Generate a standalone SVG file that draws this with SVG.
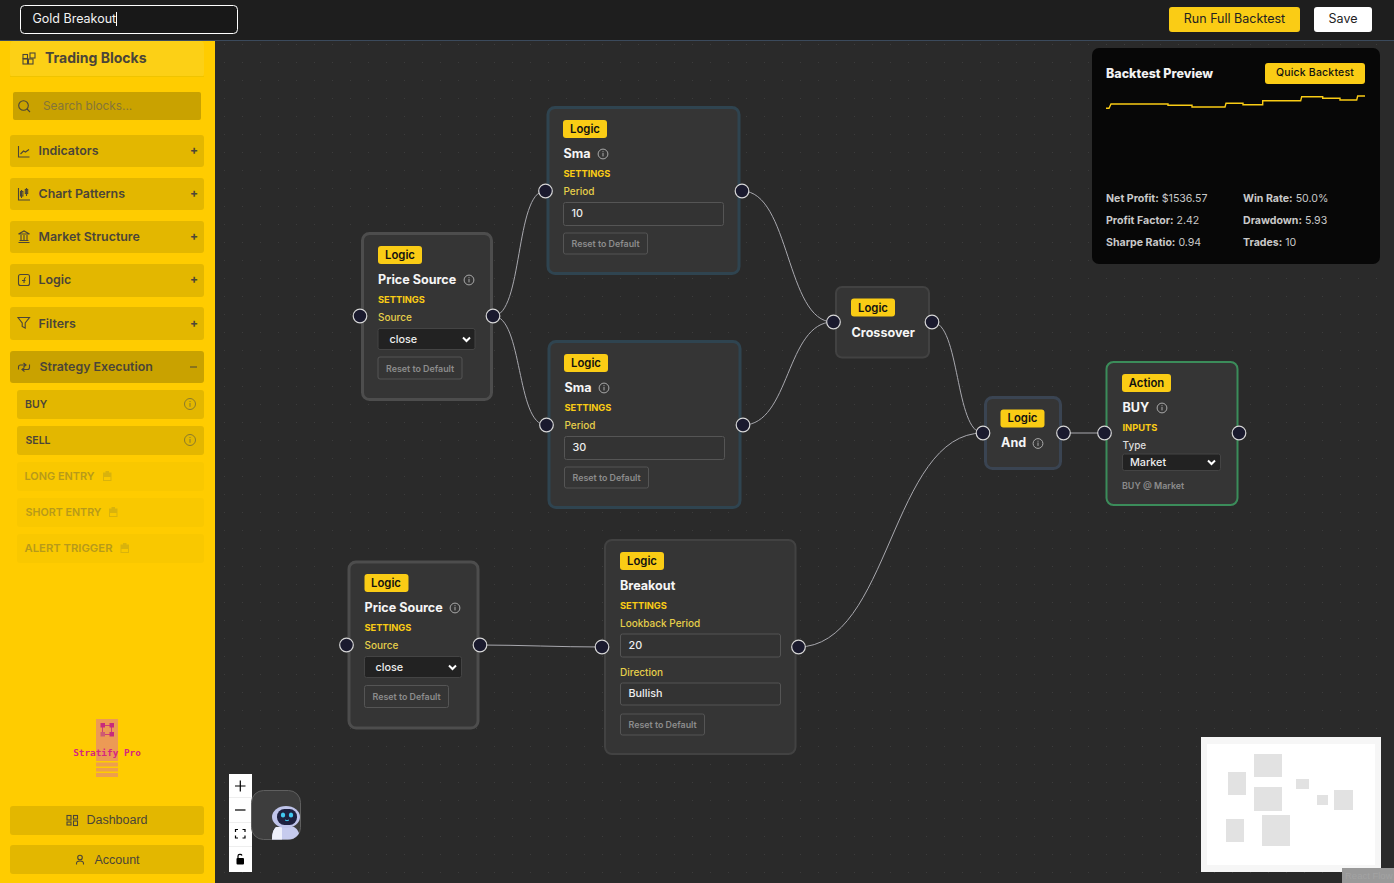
<svg xmlns="http://www.w3.org/2000/svg" width="1394" height="883" viewBox="0 0 1394 883">
<style>
text{font-family:Inter,"Liberation Sans",sans-serif}
.node{fill:#353535;stroke-width:3}
.tag{fill:#facc15}
.tagt{font-size:11.300px;font-weight:600;fill:#111;text-anchor:middle}
.title{font-size:12.600px;font-weight:700;fill:#f5f5f5}
.sec{font-size:9.300px;font-weight:700;fill:#facc15}
.lbl{font-size:10px;font-weight:500;fill:#e6cf4a}
.inp{fill:#333;stroke:#555;stroke-width:1}
.sel{fill:#222;stroke:#444;stroke-width:1}
.val{font-size:10.800px;font-weight:500;fill:#eee}
.rst{fill:#353535;stroke:#555;stroke-width:1}
.rstt{font-size:8.900px;font-weight:600;fill:#8c8c8c}
.port{fill:#1a1a2e;stroke:#d6d6d6;stroke-width:1.200}
.edge{fill:none;stroke:#a8a8ae;stroke-width:1}
.info{fill:none;stroke:#aaa;stroke-width:1}
.infod{fill:#aaa}
.sinfo{fill:none;stroke:#8a7a2c;stroke-width:1}
.sinfod{fill:#8a7a2c}
.chev{fill:none;stroke:#fff;stroke-width:2}
.side{fill:#e3b700}
.sidet{font-size:12.400px;font-weight:600;fill:#4b4538}
.plus{font-size:12px;font-weight:700;fill:#4b4538;text-anchor:middle}
.ic{fill:none;stroke:#4b4538;stroke-width:1.100}
.sub{fill:#e3b700}
.subt{font-size:10.500px;font-weight:600;fill:#4b4538}
.dis{fill:#f9c800}
.dist{font-size:10.500px;font-weight:600;fill:#b79a1a}
.lock{fill:none;stroke:#d9b30c;stroke-width:1}
.lockf{fill:#d9b30c}
.stat{font-size:10.600px;fill:#c9c9c9}
.stat tspan{font-weight:700}
.mm{fill:#e2e2e2}
.ctl{fill:none;stroke:#000;stroke-width:1.200}
</style>
<defs>
<pattern id="dots" x="0" y="0" width="18" height="18" patternUnits="userSpaceOnUse"><rect x="8" y="8" width="1" height="1" fill="#3c3c3c"/></pattern>
<g id="i"><circle r="4.900" class="info"/><rect x="-.5" y="-1" width="1" height="3.400" class="infod"/><rect x="-.5" y="-2.800" width="1" height="1" class="infod"/></g>
<g id="si"><circle r="5.500" class="sinfo"/><rect x="-.5" y="-1" width="1" height="3.800" class="sinfod"/><rect x="-.5" y="-3" width="1" height="1" class="sinfod"/></g>
<g id="lk"><rect x="0" y="2" width="7.500" height="7.500" class="lock"/><rect x="0" y="2" width="7.500" height="4" class="lockf"/><rect x="2" y="0" width="3.500" height="2.500" class="lockf"/></g>
<clipPath id="botclip"><rect x="251.500" y="790.500" width="49" height="49" rx="12"/></clipPath>
</defs>
<rect width="1394" height="883" fill="#2a2a2a"/>
<rect x="215" y="41" width="1179" height="842" fill="url(#dots)"/>
<g id="topbar">
<rect width="1394" height="40" fill="#1e1e1e"/>
<rect y="40" width="1394" height="1" fill="#3b4a5c"/>
<rect x="20.500" y="5.500" width="217" height="28" rx="4" fill="#181818" stroke="#fff"/>
<text x="32.500" y="23" font-size="12.500" fill="#f2f2f2">Gold Breakout</text>
<rect x="116" y="12" width="1" height="14" fill="#fff"/>
<rect x="1169" y="7" width="131" height="25" rx="3" fill="#facc15"/>
<text x="1234.500" y="23" font-size="12.500" fill="#222" text-anchor="middle">Run Full Backtest</text>
<rect x="1314" y="7" width="58" height="25" rx="3" fill="#fff"/>
<text x="1343" y="23" font-size="12.500" fill="#222" text-anchor="middle">Save</text>
</g>
<g id="sidebar">
<rect y="41" width="215" height="842" fill="#ffcc00"/>
<rect x="10" y="41" width="194" height="36" rx="4" fill="#fcd016"/>
<rect x="10" y="76" width="194" height="1" fill="#f0c400"/>
<g class="ic"><rect x="23" y="59" width="4.500" height="5"/><rect x="28.500" y="59" width="4.500" height="5"/><rect x="23" y="54.500" width="4.500" height="4"/><rect x="30" y="53" width="5" height="5"/></g>
<text x="45" y="63" font-size="14" font-weight="700" fill="#4b4538">Trading Blocks</text>
<rect x="13" y="92" width="188" height="28" rx="2" fill="#c9a200"/>
<circle cx="23.500" cy="105.500" r="4.800" class="ic"/><path d="M27 109l3 3" class="ic"/>
<text x="43" y="110" font-size="11.800" fill="#857538">Search blocks...</text>
<g id="cat-indicators"><rect x="10" y="135" width="194" height="32" rx="3" class="side"/><path d="M18.500 146v11h11M20.500 154l3-3 2 1 3.500-2.500" class="ic"/><text x="38.500" y="155" class="sidet">Indicators</text><text x="194" y="154" class="plus">+</text></g>
<g id="cat-patterns"><rect x="10" y="178" width="194" height="32" rx="3" class="side"/><path d="M18.500 188v12h11.500M21.500 190v8M26.500 188v8" class="ic"/><rect x="20.500" y="191.500" width="2.400" height="4.500" class="ic"/><rect x="25.300" y="189.500" width="2.400" height="4" class="ic"/><text x="38.500" y="198" class="sidet">Chart Patterns</text><text x="194" y="197" class="plus">+</text></g>
<g id="cat-structure"><rect x="10" y="221" width="194" height="32" rx="3" class="side"/><path d="M18.500 234l5.500-3 5.500 3zM18.500 242.500h11M19.500 240.500h9M21 235v5M24 235v5M27 235v5" class="ic"/><text x="38.500" y="241" class="sidet">Market Structure</text><text x="194" y="240" class="plus">+</text></g>
<g id="cat-logic"><rect x="10" y="264" width="194" height="33" rx="3" class="side"/><rect x="18.500" y="274.500" width="11" height="11" rx="2" class="ic"/><path d="M25.800 277.500c-1.500 0-1.800 1-1.800 5.500M22 280.500h3.500" class="ic"/><text x="38.500" y="284" class="sidet" font-size="13">Logic</text><text x="194" y="283" class="plus">+</text></g>
<g id="cat-filters"><rect x="10" y="307" width="194" height="33" rx="3" class="side"/><path d="M18 317.500h11.500l-4.300 5.500v5l-3-1.500v-3.500z" class="ic"/><text x="38.500" y="327.500" class="sidet">Filters</text><text x="194" y="326.500" class="plus">+</text></g>
<g id="cat-exec"><rect x="10" y="351" width="194" height="32" rx="3" fill="#c9a200"/><path d="M18.500 369.500v-2.500c0-1 1-2 2-2h6M23.500 363l2.500 2-2.500 2M29.500 364.500v3c0 1-1 2-2 2h-6M24.500 371.500l-2.500-2 2.500-2" class="ic"/><text x="39.500" y="371" class="sidet">Strategy Execution</text><rect x="190" y="366.500" width="7" height="1" fill="#4b4538"/></g>
<g id="blk-buy"><rect x="17" y="390" width="187" height="29" rx="3" class="sub"/><text x="25" y="408" class="subt">BUY</text><use href="#si" x="190" y="404"/></g>
<g id="blk-sell"><rect x="17" y="426" width="187" height="29" rx="3" class="sub"/><text x="25.500" y="444" class="subt">SELL</text><use href="#si" x="190" y="440"/></g>
<g id="blk-long"><rect x="17" y="462" width="187" height="29" rx="3" class="dis"/><text x="24.500" y="480" class="dist" textLength="70" lengthAdjust="spacingAndGlyphs">LONG ENTRY</text><use href="#lk" x="103.500" y="471"/></g>
<g id="blk-short"><rect x="17" y="498" width="187" height="29" rx="3" class="dis"/><text x="25.500" y="516" class="dist" textLength="76" lengthAdjust="spacingAndGlyphs">SHORT ENTRY</text><use href="#lk" x="109.500" y="507"/></g>
<g id="blk-alert"><rect x="17" y="534" width="187" height="29" rx="3" class="dis"/><text x="24.500" y="552" class="dist" textLength="88" lengthAdjust="spacingAndGlyphs">ALERT TRIGGER</text><use href="#lk" x="121" y="543"/></g>
<g id="logo"><rect x="96" y="719" width="22" height="42" fill="#ec9a55"/><rect x="96" y="762.500" width="22" height="4" fill="#ee9f4d"/><rect x="96" y="768" width="22" height="3.500" fill="#ee9f4d"/><rect x="96" y="773" width="22" height="4" fill="#ee9f4d"/>
<path d="M102.500 725.500h9v9h-9z" fill="none" stroke="#c72a7c" stroke-width=".8"/><rect x="100.500" y="723" width="4.500" height="4.500" fill="#c72a7c"/><rect x="109.500" y="723" width="4.500" height="4.500" fill="#c72a7c"/><rect x="100.500" y="732" width="4.500" height="4.500" fill="#cd5a72"/><rect x="109.500" y="732" width="4.500" height="4.500" fill="#c72a7c"/>
<text x="107" y="755.500" font-size="9.400" font-weight="700" fill="#d6267f" text-anchor="middle" style="font-family:'DejaVu Sans Mono','Liberation Mono',monospace">Stratify Pro</text></g>
<g id="btn-dash"><rect x="10" y="806" width="194" height="29" rx="3" class="side"/><g class="ic"><rect x="67" y="815.500" width="4" height="4.500"/><rect x="73.500" y="815.500" width="4" height="3.500"/><rect x="67" y="822" width="4" height="3"/><rect x="73.500" y="821" width="4" height="4.500"/></g><text x="117" y="824" font-size="12.500" fill="#4b4538" text-anchor="middle" style="font-family:'Liberation Sans',sans-serif">Dashboard</text></g>
<g id="btn-account"><rect x="10" y="845" width="194" height="29" rx="3" class="side"/><circle cx="80" cy="857.500" r="2.300" class="ic"/><path d="M76.500 864.500v-1c0-1.500 1.500-2.500 3.500-2.500s3.500 1 3.500 2.500v1" class="ic"/><text x="117" y="864" font-size="12.500" fill="#4b4538" text-anchor="middle" style="font-family:'Liberation Sans',sans-serif">Account</text></g>
</g>
<g id="connectors">
<path class="edge" d="M493 316C523 316 515 191 545 191"/>
<path class="edge" d="M493 316C523 316 516 425 546 425"/>
<path class="edge" d="M742 191C790 191 786 322 833 322"/>
<path class="edge" d="M743 425C790 425 786 322 833 322"/>
<path class="edge" d="M932 322C960 322 955 433 983 433"/>
<path class="edge" d="M798 647C890 647 891 433 983 433"/>
<path class="edge" d="M1063 433H1104"/>
<path class="edge" d="M480 645C520 645 560 647 602 647"/>
</g>
<g id="node-price1"><rect x="362.500" y="233.500" width="129" height="166" rx="7" class="node" stroke="#4d4d4d"/>
<rect x="378" y="246" width="44" height="18" rx="3" class="tag"/><text x="400" y="258.500" class="tagt">Logic</text>
<text x="378" y="284" class="title">Price Source</text><use href="#i" x="469" y="280"/>
<text x="378" y="303" class="sec">SETTINGS</text><text x="378" y="321" class="lbl">Source</text>
<rect x="378" y="328.500" width="97" height="21" rx="2" class="sel"/><text x="389.500" y="343" class="val">close</text><path d="M463 337.500l3.500 3.500 3.500-3.500" class="chev"/>
<rect x="378" y="357" width="84" height="22" rx="2" class="rst"/><text x="386" y="372" class="rstt">Reset to Default</text>
<circle cx="360" cy="316" r="6.800" class="port"/><circle cx="493" cy="316" r="6.800" class="port"/></g>
<g id="node-sma1"><rect x="548" y="107.500" width="191" height="166" rx="7" class="node" stroke="#2f4450"/>
<rect x="563" y="120" width="44" height="18" rx="3" class="tag"/><text x="585" y="132.500" class="tagt">Logic</text>
<text x="563.500" y="158" class="title">Sma</text><use href="#i" x="603" y="154"/>
<text x="563.500" y="177" class="sec">SETTINGS</text><text x="563.500" y="195" class="lbl">Period</text>
<rect x="563.500" y="202.500" width="160" height="23" rx="2" class="inp"/><text x="571.500" y="217" class="val">10</text>
<rect x="563.500" y="233" width="84" height="21" rx="2" class="rst"/><text x="571.500" y="247" class="rstt">Reset to Default</text>
<circle cx="545.500" cy="191" r="6.800" class="port"/><circle cx="742" cy="191" r="6.800" class="port"/></g>
<g id="node-sma2"><rect x="549" y="341.500" width="191" height="166" rx="7" class="node" stroke="#2f4450"/>
<rect x="564" y="354" width="44" height="18" rx="3" class="tag"/><text x="586" y="366.500" class="tagt">Logic</text>
<text x="564.500" y="392" class="title">Sma</text><use href="#i" x="604" y="388"/>
<text x="564.500" y="411" class="sec">SETTINGS</text><text x="564.500" y="429" class="lbl">Period</text>
<rect x="564.500" y="436.500" width="160" height="23" rx="2" class="inp"/><text x="572.500" y="451" class="val">30</text>
<rect x="564.500" y="467" width="84" height="21" rx="2" class="rst"/><text x="572.500" y="481" class="rstt">Reset to Default</text>
<circle cx="546.500" cy="425" r="6.800" class="port"/><circle cx="743" cy="425" r="6.800" class="port"/></g>
<g id="node-crossover"><rect x="836" y="287" width="93" height="70.500" rx="6" class="node" stroke="#424242" style="stroke-width:2"/>
<rect x="851" y="298.500" width="44" height="18" rx="3" class="tag"/><text x="873" y="311.500" class="tagt">Logic</text>
<text x="851.500" y="337" class="title">Crossover</text>
<circle cx="833.500" cy="322" r="6.800" class="port"/><circle cx="932" cy="322" r="6.800" class="port"/></g>
<g id="node-and"><rect x="985.500" y="397.500" width="75" height="71" rx="7" class="node" stroke="#3a4452"/>
<rect x="1000.500" y="409.500" width="44" height="18" rx="3" class="tag"/><text x="1022.500" y="421.500" class="tagt">Logic</text>
<text x="1001" y="447" class="title">And</text><use href="#i" x="1038" y="443.500"/>
<circle cx="983" cy="433" r="6.800" class="port"/><circle cx="1063.500" cy="433" r="6.800" class="port"/></g>
<g id="node-buy"><rect x="1106.500" y="362" width="131" height="143" rx="7" class="node" stroke="#3b8c5a" style="stroke-width:2"/>
<rect x="1122" y="374" width="49" height="18" rx="3" class="tag"/><text x="1146.500" y="386.500" class="tagt">Action</text>
<text x="1122.500" y="412" class="title">BUY</text><use href="#i" x="1162" y="408"/>
<text x="1122.500" y="431" class="sec">INPUTS</text><text x="1122.500" y="449" class="lbl" style="fill:#ddd">Type</text>
<rect x="1122.500" y="454" width="98" height="16.500" rx="2" class="sel"/><text x="1130" y="466" class="val">Market</text><path d="M1208 460.500l3.500 3.500 3.500-3.500" class="chev"/>
<text x="1122" y="489" class="rstt">BUY @ Market</text>
<circle cx="1104.500" cy="433" r="6.800" class="port"/><circle cx="1239" cy="433" r="6.800" class="port"/></g>
<g id="node-price2"><rect x="349" y="562" width="129" height="166" rx="7" class="node" stroke="#4d4d4d"/>
<rect x="364.500" y="574" width="44" height="18" rx="3" class="tag"/><text x="386" y="586.500" class="tagt">Logic</text>
<text x="364.500" y="612" class="title">Price Source</text><use href="#i" x="455" y="608"/>
<text x="364.500" y="631" class="sec">SETTINGS</text><text x="364.500" y="649" class="lbl">Source</text>
<rect x="364.500" y="656.500" width="97" height="21" rx="2" class="sel"/><text x="375.500" y="671" class="val">close</text><path d="M449 665.500l3.500 3.500 3.500-3.500" class="chev"/>
<rect x="364.500" y="685.500" width="84" height="22" rx="2" class="rst"/><text x="372.500" y="700" class="rstt">Reset to Default</text>
<circle cx="346.500" cy="645" r="6.800" class="port"/><circle cx="480" cy="645" r="6.800" class="port"/></g>
<g id="node-breakout"><rect x="605" y="540" width="190.500" height="214" rx="7" class="node" stroke="#424242" style="stroke-width:2"/>
<rect x="620" y="552" width="44" height="18" rx="3" class="tag"/><text x="642" y="564.500" class="tagt">Logic</text>
<text x="620" y="590" class="title">Breakout</text>
<text x="620" y="609" class="sec">SETTINGS</text><text x="620" y="627" class="lbl">Lookback Period</text>
<rect x="620.500" y="634" width="160" height="23" rx="2" class="inp"/><text x="628.500" y="649" class="val">20</text>
<text x="620" y="676" class="lbl">Direction</text>
<rect x="620.500" y="683" width="160" height="22" rx="2" class="inp"/><text x="628.500" y="697" class="val">Bullish</text>
<rect x="620.500" y="714" width="84" height="21" rx="2" class="rst"/><text x="628.500" y="728" class="rstt">Reset to Default</text>
<circle cx="602" cy="647" r="6.800" class="port"/><circle cx="798.500" cy="647" r="6.800" class="port"/></g>
<g id="preview">
<rect x="1092" y="48" width="288" height="216" rx="7" fill="#070707"/>
<text x="1106" y="78" font-size="12.500" font-weight="800" fill="#f2f2f2">Backtest Preview</text>
<rect x="1265" y="63" width="100" height="21" rx="3" fill="#facc15"/>
<text x="1315" y="76" font-size="10.500" font-weight="500" fill="#111" text-anchor="middle" letter-spacing=".2">Quick Backtest</text>
<path d="M1106 108.300h3l2-4.300H1168v1.300H1192v1.700H1225l1-3.700H1243v1.400H1262.700v-4H1300.700l1-4H1322.700v1.600H1340v1.700H1356.700l1-4H1365" fill="none" stroke="#facc15" stroke-width="1.400"/>
<text x="1106" y="202" class="stat"><tspan>Net Profit:</tspan> $1536.57</text>
<text x="1106" y="224" class="stat"><tspan>Profit Factor:</tspan> 2.42</text>
<text x="1106" y="246" class="stat"><tspan>Sharpe Ratio:</tspan> 0.94</text>
<text x="1243" y="202" class="stat"><tspan>Win Rate:</tspan> 50.0%</text>
<text x="1243" y="224" class="stat"><tspan>Drawdown:</tspan> 5.93</text>
<text x="1243" y="246" class="stat"><tspan>Trades:</tspan> 10</text>
</g>
<g id="controls">
<rect x="229" y="774" width="23" height="98" fill="#fff"/>
<rect x="229" y="797" width="23" height="1" fill="#eee"/><rect x="229" y="822" width="23" height="1" fill="#eee"/><rect x="229" y="846" width="23" height="1" fill="#eee"/>
<path d="M235 786h10.500M240.300 780.500v11" class="ctl"/>
<path d="M235 810h10.500" class="ctl"/>
<path d="M235.500 832v-2.500h2.500M242.500 829.500h2.500v2.500M245 835.500v2.500h-2.500M238 838h-2.500v-2.500" class="ctl"/>
<rect x="236.500" y="858" width="7.500" height="6.500" rx="1" fill="#000"/><path d="M238 858v-2c0-2 3.500-2 4-.5" class="ctl"/>
</g>
<g id="bot"><rect x="251.500" y="790.500" width="49" height="49" rx="12" fill="#3d3d3d" stroke="#5f5f5f"/>
<g clip-path="url(#botclip)">
<path d="M272 840c0-6 1-10 4-13h18c4 2 6 7 6 13z" fill="#c6cbee"/><path d="M272 840c0-6 1-10 4-13h6v13z" fill="#eef0fb"/>
<ellipse cx="286" cy="817" rx="14" ry="11" fill="#bfc4ea"/><rect x="277" y="809" width="20" height="16" rx="7.500" fill="#1e2140"/>
<ellipse cx="283" cy="815" rx="2.200" ry="2.600" fill="#42c8f0"/><ellipse cx="291" cy="815" rx="2.200" ry="2.600" fill="#42c8f0"/><path d="M285 820q2 1.500 4 0" stroke="#42c8f0" fill="none"/>
</g></g>
<g id="minimap">
<rect x="1201" y="737" width="180" height="135" fill="#f6f6f6"/>
<rect x="1207" y="744" width="168" height="121" fill="#fff"/>
<rect x="1254" y="754" width="28" height="23" class="mm"/><rect x="1228" y="772" width="18" height="23" class="mm"/><rect x="1254" y="787" width="28" height="24" class="mm"/><rect x="1296" y="779" width="13" height="10" class="mm"/><rect x="1317" y="795" width="11" height="10" class="mm"/><rect x="1334" y="790" width="19" height="20" class="mm"/><rect x="1226" y="819" width="18" height="23" class="mm"/><rect x="1262" y="815" width="28" height="31" class="mm"/>
</g>
<g id="attribution"><rect x="1342" y="868" width="52" height="15" fill="#999"/><text x="1345" y="879" font-size="9.500" fill="#a3a3a3" style="font-family:'Liberation Sans',sans-serif">React Flow</text></g>
</svg>
